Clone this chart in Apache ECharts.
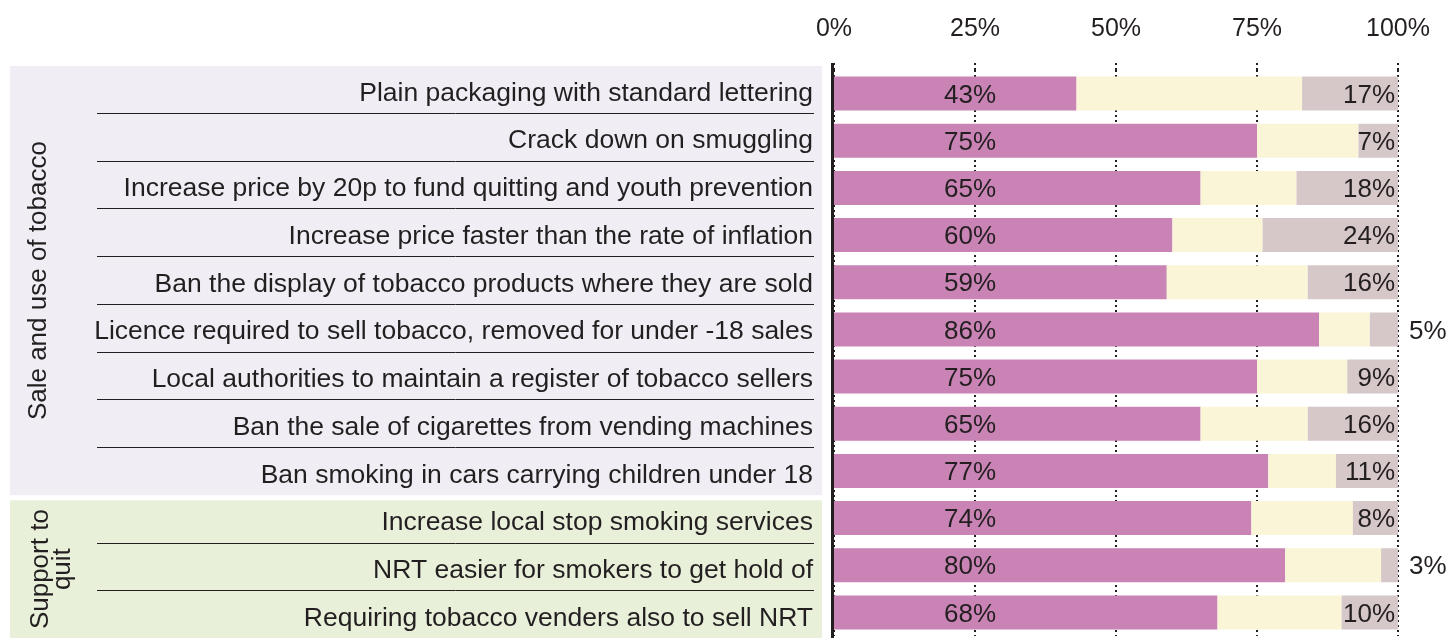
<!DOCTYPE html>
<html>
<head>
<meta charset="utf-8">
<script src="https://cdn.jsdelivr.net/npm/echarts@6/dist/echarts.min.js"></script>
<style>
html,body{margin:0;padding:0;background:#fff;}
#chart{width:1451px;height:638px;}
</style>
</head>
<body>
<div id="chart"></div>
<script>
var categories = [
  "Plain packaging with standard lettering",
  "Crack down on smuggling",
  "Increase price by 20p to fund quitting and youth prevention",
  "Increase price faster than the rate of inflation",
  "Ban the display of tobacco products where they are sold",
  "Licence required to sell tobacco, removed for under -18 sales",
  "Local authorities to maintain a register of tobacco sellers",
  "Ban the sale of cigarettes from vending machines",
  "Ban smoking in cars carrying children under 18",
  "Increase local stop smoking services",
  "NRT easier for smokers to get hold of",
  "Requiring tobacco venders also to sell NRT"
];
var support = [43, 75, 65, 60, 59, 86, 75, 65, 77, 74, 80, 68];
var neutral = [40, 18, 17, 16, 25, 9, 16, 19, 12, 18, 17, 22];
var oppose  = [17, 7, 18, 24, 16, 5, 9, 16, 11, 8, 3, 10];
var groups = ["Sale and use of tobacco", "Support to\nquit"];
var groupOf = [0, 0, 0, 0, 0, 0, 0, 0, 0, 1, 1, 1];
var xTicks = [0, 25, 50, 75, 100];

var TXT = '#231F20';
var FONT = '"Liberation Sans", Arial, Helvetica, sans-serif';
var groupColors = ['#F0EEF4', '#E8F0DA'];
var dotted = {color: TXT, width: 2, type: [2, 3]};

var chart = echarts.init(document.getElementById('chart'), null, {renderer: 'canvas'});

var panelData = categories.map(function (c, i) { return [0, i, groupOf[i]]; });

function renderPanel(params, api) {
  var i = api.value(1);
  var g = api.value(2);
  var n = categories.length;
  var c0 = api.coord([0, i]);
  var c1 = api.coord([1, i]);
  var band = api.size([0, 1])[1];
  var children = [];
  var first = (i === 0 || groupOf[i - 1] !== g);
  var last = (i === n - 1 || groupOf[i + 1] !== g);
  if (first) {
    var count = groupOf.filter(function (x) { return x === g; }).length;
    var top = c0[1] - band / 2 + (g === 0 ? 1 : 5.5);
    var bottom = c0[1] - band / 2 + count * band + (g === 0 ? 0.5 : 10);
    children.push({
      type: 'rect',
      shape: {x: c0[0], y: top, width: c1[0] - c0[0] - 12, height: bottom - top},
      style: {fill: groupColors[g]}
    });
    var midY = (top + Math.min(bottom, 638)) / 2;
    children.push({
      type: 'text',
      x: c0[0] + (g === 0 ? 29 : 42),
      y: midY,
      rotation: Math.PI / 2,
      style: {
        text: groups[g], fill: TXT, fontSize: 26, fontFamily: FONT,
        align: 'center', verticalAlign: 'middle', lineHeight: 22
      }
    });
  }
  if (!last) {
    var yb = Math.round(c0[1] + band / 2) + 0.5;
    children.push({
      type: 'line',
      shape: {x1: c0[0] + 87, y1: yb, x2: c1[0] - 20, y2: yb},
      style: {stroke: TXT, lineWidth: 1}
    });
  }
  if (i === 0) {
    // main value axis line (extends a little above the plot)
    children.push({
      type: 'line',
      shape: {x1: c1[0] - 1.5, y1: 63, x2: c1[0] - 1.5, y2: 638},
      style: {stroke: TXT, lineWidth: 3}
    });
  }
  return {type: 'group', children: children};
}

var option = {
  animation: false,
  backgroundColor: '#ffffff',
  textStyle: {fontFamily: FONT, color: TXT},
  grid: [
    {left: 834, right: 53, top: 70, height: 566},
    {left: 10, width: 824, top: 65, height: 573}
  ],
  xAxis: [
    {
      gridIndex: 0, type: 'value', position: 'top',
      min: xTicks[0], max: xTicks[xTicks.length - 1], interval: 25,
      axisLine: {show: false},
      axisTick: {show: true, length: 8, lineStyle: dotted},
      splitLine: {show: true, lineStyle: dotted},
      axisLabel: {
        formatter: '{value}%', fontSize: 25, color: TXT, margin: 28, fontFamily: FONT
      }
    },
    {gridIndex: 1, type: 'value', min: 0, max: 1, show: false}
  ],
  yAxis: [
    {
      gridIndex: 0, type: 'category', inverse: true, data: categories,
      axisLine: {show: false}, axisTick: {show: false}, axisLabel: {show: false}
    },
    {
      gridIndex: 1, type: 'category', inverse: true, data: categories,
      position: 'right',
      axisLine: {show: false}, axisTick: {show: false},
      axisLabel: {
        inside: true, margin: 21, fontSize: 26.5, color: TXT, fontFamily: FONT,
        formatter: function (v) { return '{l|' + v + '}'; },
        rich: {
          l: {fontSize: 26.5, color: TXT, fontFamily: FONT, padding: [9, 0, 0, 0]}
        }
      }
    }
  ],
  series: [
    {
      type: 'custom', xAxisIndex: 1, yAxisIndex: 1, z: -1, silent: true,
      encode: {x: 0, y: 1},
      data: panelData,
      renderItem: renderPanel
    },
    {
      name: 'Support', type: 'bar', stack: 'all', xAxisIndex: 0, yAxisIndex: 0,
      barWidth: 34, data: support,
      itemStyle: {color: '#C983B5'},
      label: {
        show: true, position: [136, '50%'], align: 'center', verticalAlign: 'middle',
        offset: [0, 2],
        formatter: '{c}%', fontSize: 26, color: TXT, fontFamily: FONT
      }
    },
    {
      name: 'Neutral', type: 'bar', stack: 'all', xAxisIndex: 0, yAxisIndex: 0,
      barWidth: 34, data: neutral,
      itemStyle: {color: '#FAF5D6'}
    },
    {
      name: 'Oppose', type: 'bar', stack: 'all', xAxisIndex: 0, yAxisIndex: 0,
      barWidth: 34,
      data: oppose.map(function (v) {
        return v < 6 ? {value: v, label: {position: 'right', distance: 11}} : v;
      }),
      itemStyle: {color: '#D6C8C8'},
      label: {
        show: true, position: 'insideRight', distance: 3, offset: [0, 2],
        formatter: '{c}%', fontSize: 26, color: TXT, fontFamily: FONT
      }
    }
  ]
};
chart.setOption(option);
</script>
</body>
</html>
